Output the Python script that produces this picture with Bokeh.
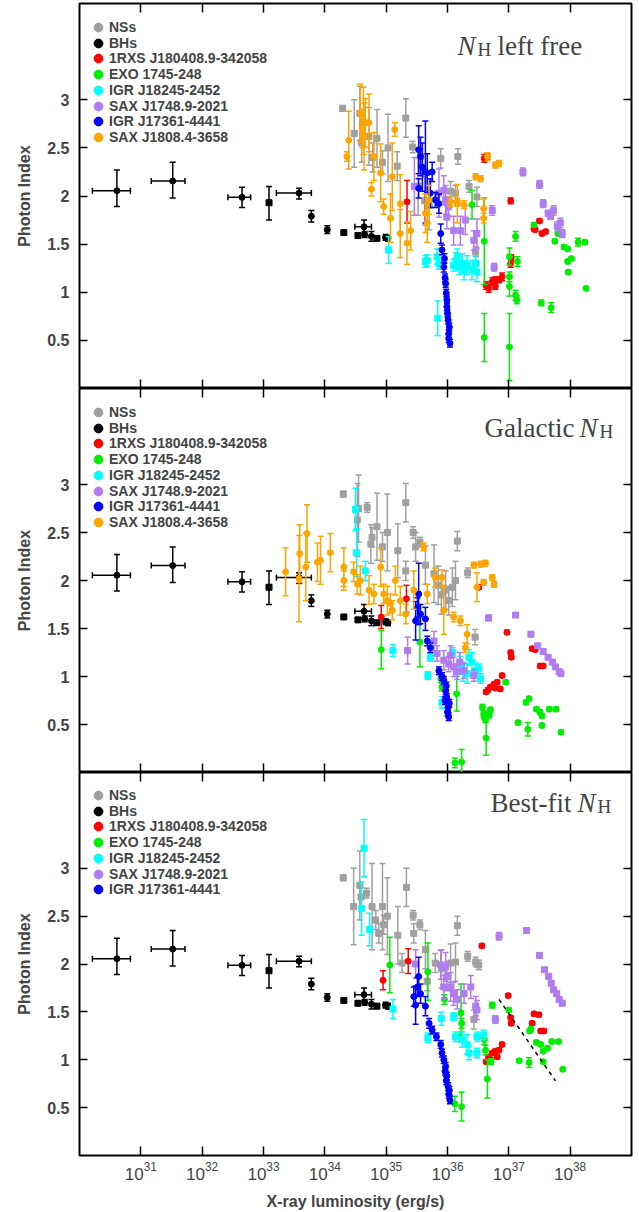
from bokeh.plotting import figure
from bokeh.models import (ColumnDataSource, FixedTicker, LinearAxis, LogAxis, Label,
                          Legend, LegendItem, Range1d)
from bokeh.layouts import column
from bokeh.embed import file_html
from bokeh.resources import INLINE

# ---------------- axes -----------------
X_TICKS = [1e31, 1e32, 1e33, 1e34, 1e35, 1e36, 1e37, 1e38]
Y_TICKS = [0.5, 1, 1.5, 2, 2.5, 3]
Y_TICK_LABELS = ["0.5", "1", "1.5", "2", "2.5", "3"]
X_LABEL = "X-ray luminosity (erg/s)"
Y_LABEL = "Photon Index"

SERIES_NAMES = ["NSs", "BHs", "1RXS J180408.9-342058", "EXO 1745-248", "IGR J18245-2452",
                "SAX J1748.9-2021", "IGR J17361-4441", "SAX J1808.4-3658"]
SERIES_COLORS = ["#a0a0a0", "#000000", "#ff0000", "#00ee00", "#00ffff",
                 "#b07cf0", "#0000ff", "#ffa500"]
SERIES_MARKERS = ["square", "circle", "circle", "circle", "square", "square", "circle", "circle"]

# ---------------- BHs (same in every panel): log10 L, photon index, errors ---------------
BH_L = [30.61, 31.52, 32.65, 33.09, 33.58, 33.78, 34.04, 34.31, 34.54, 34.64, 34.65, 34.76, 34.85, 34.99, 35.03]
BH_G = [2.055, 2.156, 1.986, 1.93, 2.03, 1.79, 1.65, 1.62, 1.59, 1.68, 1.60, 1.58, 1.56, 1.57, 1.56]
BH_G_LO = [0.165, 0.176, 0.106, 0.18, 0.06, 0.06, 0.04, 0.02, 0.02, 0.07, 0.03, 0.05, 0.02, 0.03, 0.03]
BH_G_HI = [0.215, 0.194, 0.104, 0.17, 0.05, 0.06, 0.04, 0.02, 0.02, 0.07, 0.03, 0.05, 0.02, 0.03, 0.03]
BH_L_LO = [0.40, 0.35, 0.23, 0, 0.37, 0, 0, 0, 0, 0.15, 0, 0, 0, 0, 0]
BH_L_HI = [0.22, 0.20, 0.14, 0, 0.20, 0, 0, 0, 0, 0.12, 0, 0, 0, 0, 0]
BH_MARK = ["circle", "circle", "circle", "square", "circle", "circle", "circle", "square",
           "square", "circle", "circle", "circle", "square", "circle", "circle"]

# ---------------- Panel 1: NH left free ----------------
P1_NS_L = [34.29, 34.48, 34.57, 34.60, 34.72, 34.78, 34.85, 34.94, 35.03, 35.18, 35.32, 35.43, 35.56, 35.52, 35.63, 35.70, 35.89, 36.05, 36.13, 36.17, 36.35, 36.48, 36.46]
P1_NS_G = [2.91, 2.65, 2.86, 2.55, 2.62, 2.40, 2.60, 2.35, 2.50, 2.31, 2.81, 2.51, 2.41, 2.10, 1.95, 1.90, 2.39, 2.05, 2.03, 2.41, 2.10, 1.99, 1.42]
P1_NS_E = [0.03, 0.35, 0.28, 0.2, 0.3, 0.15, 0.3, 0.12, 0.35, 0.15, 0.2, 0.06, 0.08, 0.3, 0.25, 0.25, 0.1, 0.1, 0.08, 0.08, 0.06, 0.1, 0.05]

P1_RX_L = [35.34, 36.60, 36.65, 37.03, 37.03, 37.04, 36.63, 36.67, 36.73, 36.78, 36.84, 36.89, 36.78, 37.41, 37.50, 37.43, 37.54, 37.60]
P1_RX_G = [1.94, 2.39, 2.41, 1.95, 1.30, 1.36, 1.07, 1.04, 1.11, 1.06, 1.13, 1.16, 1.13, 1.66, 1.74, 1.65, 1.61, 1.63]
P1_RX_E = [0.22, 0.04, 0.03, 0.03, 0.04, 0.03, 0.04, 0.04, 0.04, 0.03, 0.03, 0.04, 0.03, 0.02, 0.02, 0.02, 0.02, 0.02]

P1_EXO_L = [36.40, 36.60, 36.60, 37.01, 37.01, 37.01, 37.01, 37.11, 37.14, 37.11, 37.13, 37.53, 37.69, 37.41, 37.75, 37.80, 37.90, 37.96, 37.96, 38.02, 37.97, 38.13, 38.24, 38.26]
P1_EXO_G = [1.91, 1.53, 0.53, 0.43, 1.37, 1.16, 1.06, 1.58, 1.32, 0.97, 0.92, 0.89, 0.84, 1.70, 1.53, 1.61, 1.47, 1.45, 1.32, 1.35, 1.21, 1.52, 1.52, 1.04]
P1_EXO_E = [0.15, 0.45, 0.25, 0.35, 0.09, 0.05, 0.1, 0.05, 0.05, 0.05, 0.04, 0.03, 0.05, 0.02, 0.02, 0.02, 0.02, 0.02, 0.02, 0.02, 0.02, 0.04, 0.02, 0.02]

P1_IGR1_L = [35.04, 35.64, 35.67, 35.83, 35.86, 35.84, 36.16, 36.19, 36.24, 36.27, 36.32, 36.40, 36.46, 36.48, 36.10, 36.14]
P1_IGR1_G = [1.44, 1.32, 1.33, 1.37, 1.30, 0.73, 1.37, 1.26, 1.30, 1.23, 1.28, 1.23, 1.30, 1.21, 1.28, 1.33]
P1_IGR1_E = [0.14, 0.06, 0.06, 0.08, 0.06, 0.18, 0.08, 0.08, 0.1, 0.1, 0.1, 0.1, 0.08, 0.1, 0.06, 0.08]

P1_SAX1_L = [35.46, 35.86, 35.94, 35.97, 36.02, 35.99, 36.10, 36.21, 36.29, 36.43, 36.48, 36.73, 36.76, 37.23, 37.50, 37.56, 37.64, 37.68, 37.73, 37.79, 37.84, 37.87]
P1_SAX1_G = [2.10, 2.03, 2.06, 1.96, 1.89, 1.78, 1.64, 1.64, 1.75, 1.54, 1.61, 1.85, 1.26, 2.25, 2.12, 1.92, 1.82, 1.79, 1.85, 1.68, 1.72, 1.61]
P1_SAX1_E = [0.3, 0.25, 0.15, 0.15, 0.1, 0.12, 0.15, 0.15, 0.15, 0.1, 0.15, 0.05, 0.04, 0.04, 0.04, 0.04, 0.03, 0.03, 0.05, 0.05, 0.05, 0.04]

P1_IGR2_L = [35.64, 35.53, 35.53, 35.56, 35.59, 35.67, 35.75, 35.72, 35.80, 35.86, 35.89, 35.91, 35.94, 35.97, 35.98, 35.99, 36.01, 36.02, 36.04, 35.96, 35.99, 36.0, 36.03, 36.02, 35.95]
P1_IGR2_G = [2.25, 2.08, 2.48, 2.41, 2.30, 2.24, 2.25, 2.03, 1.96, 1.92, 1.61, 1.44, 1.26, 1.09, 0.99, 0.85, 0.71, 0.57, 0.47, 1.15, 0.92, 0.78, 0.64, 0.52, 1.35]
P1_IGR2_E = [0.53, 0.1, 0.25, 0.2, 0.25, 0.2, 0.1, 0.15, 0.08, 0.1, 0.1, 0.05, 0.05, 0.04, 0.04, 0.04, 0.04, 0.04, 0.04, 0.04, 0.04, 0.04, 0.04, 0.04, 0.05]

P1_SAX2_L = [34.39, 34.36, 34.58, 34.63, 34.61, 34.66, 34.72, 34.64, 34.76, 34.80, 34.91, 34.96, 35.14, 35.10, 35.07, 35.23, 35.23, 35.34, 35.40, 35.64, 35.70, 35.67, 36.05, 36.16, 36.27, 36.46, 36.54, 36.59, 36.65, 36.78, 36.84, 36.59, 36.16]
P1_SAX2_G = [2.58, 2.41, 2.86, 2.78, 2.70, 2.76, 2.76, 2.62, 2.07, 2.41, 2.24, 1.89, 2.69, 2.20, 1.77, 1.92, 1.61, 1.51, 1.64, 1.82, 1.96, 1.72, 1.94, 1.94, 1.91, 2.20, 2.18, 1.77, 2.41, 2.32, 2.34, 1.87, 1.92]
P1_SAX2_E = [0.3, 0.05, 0.3, 0.35, 0.2, 0.25, 0.3, 0.35, 0.07, 0.25, 0.3, 0.08, 0.07, 0.35, 0.25, 0.3, 0.25, 0.22, 0.2, 0.2, 0.15, 0.2, 0.05, 0.04, 0.04, 0.03, 0.03, 0.05, 0.04, 0.03, 0.03, 0.1, 0.2]

# ---------------- Panel 2: Galactic NH ----------------
P2_NS_L = [34.30, 34.55, 34.53, 34.69, 34.77, 34.75, 34.85, 34.94, 35.02, 35.19, 35.32, 35.32, 35.44, 35.48, 35.55, 35.64, 35.78, 35.97, 36.02, 36.08, 36.13, 36.16, 36.33, 36.45, 35.85, 35.90]
P2_NS_G = [2.90, 2.75, 2.63, 2.76, 2.45, 2.38, 2.56, 2.35, 2.50, 2.31, 2.81, 2.10, 2.50, 2.35, 2.40, 2.16, 2.07, 1.90, 1.79, 1.93, 2.00, 2.41, 2.08, 1.41, 1.95, 1.85]
P2_NS_E = [0.03, 0.35, 0.38, 0.05, 0.1, 0.2, 0.35, 0.15, 0.4, 0.28, 0.2, 0.1, 0.06, 0.15, 0.05, 0.2, 0.3, 0.2, 0.15, 0.2, 0.2, 0.1, 0.05, 0.08, 0.2, 0.2]

P2_RX_L = [34.92, 35.33, 36.51, 36.97, 37.03, 37.04, 37.38, 37.43, 37.51, 37.56, 36.63, 36.70, 36.76, 36.81, 36.86, 36.89, 36.66, 36.78]
P2_RX_G = [1.62, 1.81, 1.93, 1.46, 1.25, 1.20, 1.29, 1.28, 1.11, 1.11, 0.84, 0.89, 0.92, 0.94, 0.87, 1.01, 0.86, 0.88]
P2_RX_E = [0.12, 0.14, 0.02, 0.02, 0.02, 0.02, 0.02, 0.02, 0.02, 0.02, 0.02, 0.02, 0.02, 0.02, 0.02, 0.02, 0.02, 0.02]

P2_EXO_L = [34.92, 35.55, 35.89, 35.91, 36.15, 36.12, 36.23, 36.57, 36.59, 36.62, 36.68, 36.70, 36.63, 36.95, 37.15, 37.31, 37.28, 37.33, 37.45, 37.51, 37.54, 37.54, 37.66, 37.77, 37.85, 36.60]
P2_EXO_G = [1.28, 1.36, 0.98, 0.89, 0.82, 0.10, 0.11, 0.68, 0.61, 0.55, 0.60, 0.65, 0.36, 0.94, 0.52, 0.45, 0.73, 0.77, 0.66, 0.63, 0.59, 0.49, 0.66, 0.66, 0.42, 0.58]
P2_EXO_E = [0.2, 0.26, 0.04, 0.04, 0.18, 0.05, 0.13, 0.03, 0.03, 0.03, 0.03, 0.03, 0.18, 0.02, 0.02, 0.07, 0.02, 0.02, 0.02, 0.02, 0.02, 0.02, 0.02, 0.02, 0.02, 0.03]

P2_IGR1_L = [34.50, 34.52, 34.66, 35.11, 35.68, 35.72, 35.91, 36.08, 36.21, 36.32, 36.35, 36.46, 36.51, 36.54, 36.40, 36.25]
P2_IGR1_G = [2.74, 2.29, 2.10, 1.27, 1.01, 1.20, 0.73, 1.25, 1.13, 1.03, 1.20, 1.06, 1.08, 0.98, 1.15, 1.05]
P2_IGR1_E = [0.22, 0.25, 0.1, 0.06, 0.04, 0.04, 0.06, 0.05, 0.08, 0.1, 0.08, 0.08, 0.05, 0.05, 0.1, 0.1]

P2_SAX1_L = [35.35, 35.78, 35.83, 35.94, 36.02, 36.10, 36.16, 36.27, 36.43, 36.67, 37.11, 37.36, 37.47, 37.56, 37.64, 37.71, 37.76, 37.82, 37.85, 36.20, 36.05]
P2_SAX1_G = [1.27, 1.37, 1.24, 1.17, 1.13, 1.10, 1.05, 1.06, 1.01, 1.61, 1.64, 1.44, 1.32, 1.26, 1.20, 1.15, 1.10, 1.05, 1.03, 1.15, 1.22]
P2_SAX1_E = [0.14, 0.1, 0.08, 0.1, 0.08, 0.1, 0.08, 0.08, 0.06, 0.03, 0.02, 0.02, 0.02, 0.02, 0.02, 0.02, 0.02, 0.02, 0.02, 0.1, 0.1]

P2_IGR2_L = [35.53, 35.51, 35.48, 35.56, 35.64, 35.67, 35.72, 35.86, 35.94, 35.97, 35.99, 36.01, 36.02, 35.96, 36.0, 35.91, 35.98, 36.03]
P2_IGR2_G = [1.86, 1.72, 1.58, 1.65, 1.60, 1.37, 1.30, 1.06, 0.96, 0.85, 0.78, 0.68, 0.58, 0.75, 0.63, 1.00, 0.90, 0.72]
P2_IGR2_E = [0.32, 0.1, 0.2, 0.1, 0.12, 0.05, 0.05, 0.04, 0.04, 0.04, 0.04, 0.04, 0.04, 0.04, 0.04, 0.04, 0.04, 0.04]

P2_SAX2_L = [33.36, 33.58, 33.59, 33.69, 33.71, 33.88, 33.93, 34.09, 34.31, 34.31, 34.47, 34.53, 34.58, 34.72, 34.80, 34.91, 34.96, 35.02, 35.07, 35.10, 35.23, 35.32, 35.61, 35.67, 35.80, 35.91, 35.94, 36.10, 36.21, 36.32, 36.43, 36.54, 36.62, 36.48, 36.59, 36.73, 36.76, 36.29, 35.15, 35.45]
P2_SAX2_G = [2.09, 2.02, 2.28, 2.14, 2.49, 2.19, 2.21, 2.29, 2.14, 2.00, 2.09, 1.96, 2.00, 1.90, 1.86, 2.14, 1.86, 1.79, 1.76, 1.69, 1.79, 1.65, 2.35, 1.86, 2.03, 2.03, 1.69, 1.62, 1.58, 1.44, 2.16, 2.17, 2.18, 1.93, 1.98, 2.03, 1.96, 1.30, 2.00, 1.90]
P2_SAX2_E = [0.25, 0.45, 0.3, 0.35, 0.3, 0.2, 0.25, 0.2, 0.2, 0.1, 0.1, 0.1, 0.15, 0.15, 0.1, 0.2, 0.1, 0.15, 0.1, 0.1, 0.15, 0.1, 0.04, 0.1, 0.1, 0.08, 0.25, 0.05, 0.05, 0.1, 0.03, 0.03, 0.03, 0.15, 0.03, 0.03, 0.03, 0.05, 0.15, 0.2]

# ---------------- Panel 3: Best-fit NH ----------------
P3_NS_L = [34.30, 34.47, 34.57, 34.59, 34.68, 34.77, 34.83, 34.88, 34.94, 34.96, 35.02, 35.19, 35.26, 35.33, 35.44, 35.45, 35.55, 35.64, 35.67, 35.80, 35.90, 36.05, 36.13, 36.16, 36.33, 36.46, 36.51, 36.43]
P3_NS_G = [2.90, 2.60, 2.82, 2.70, 2.74, 2.60, 2.46, 2.32, 2.60, 2.41, 2.50, 2.30, 2.01, 2.80, 2.51, 2.32, 2.41, 2.15, 1.82, 2.01, 1.95, 2.01, 2.02, 2.40, 2.08, 2.02, 1.99, 1.42]
P3_NS_E = [0.03, 0.4, 0.36, 0.1, 0.05, 0.45, 0.1, 0.1, 0.45, 0.1, 0.4, 0.3, 0.1, 0.2, 0.05, 0.1, 0.05, 0.2, 0.1, 0.1, 0.2, 0.2, 0.2, 0.1, 0.05, 0.05, 0.05, 0.1]

P3_RX_L = [34.95, 35.36, 36.56, 36.99, 37.03, 37.04, 37.41, 37.49, 37.38, 37.52, 37.57, 36.63, 36.67, 36.73, 36.78, 36.84, 36.89, 36.81, 36.70]
P3_RX_G = [1.83, 2.03, 2.19, 1.67, 1.44, 1.38, 1.48, 1.47, 1.38, 1.30, 1.30, 0.98, 1.03, 1.07, 1.09, 1.10, 1.16, 1.03, 1.00]
P3_RX_E = [0.1, 0.13, 0.02, 0.02, 0.02, 0.02, 0.02, 0.02, 0.02, 0.02, 0.02, 0.02, 0.02, 0.02, 0.02, 0.02, 0.02, 0.02, 0.02]

P3_EXO_L = [35.06, 35.68, 35.95, 36.22, 36.23, 36.21, 36.12, 36.23, 36.60, 36.62, 36.65, 36.71, 36.73, 37.00, 37.17, 37.33, 37.34, 37.36, 37.45, 37.52, 37.56, 37.63, 37.56, 37.70, 37.81, 37.88]
P3_EXO_G = [1.99, 1.92, 1.63, 1.49, 1.38, 1.24, 0.54, 0.51, 1.21, 1.10, 0.80, 0.98, 1.57, 1.52, 0.99, 0.97, 1.30, 1.32, 1.18, 1.16, 1.09, 1.12, 0.98, 1.19, 1.19, 0.90]
P3_EXO_E = [0.29, 0.3, 0.05, 0.3, 0.05, 0.05, 0.08, 0.15, 0.05, 0.05, 0.2, 0.03, 0.03, 0.02, 0.02, 0.05, 0.02, 0.02, 0.02, 0.02, 0.02, 0.02, 0.02, 0.02, 0.02, 0.02]

P3_IGR1_L = [34.64, 34.60, 34.73, 35.11, 35.68, 35.90, 36.10, 36.13, 36.24, 36.32, 36.35, 36.48, 36.48, 36.59]
P3_IGR1_G = [3.21, 2.58, 2.36, 1.53, 1.23, 1.43, 1.45, 1.24, 1.21, 1.16, 1.07, 1.24, 1.07, 1.26]
P3_IGR1_E = [0.3, 0.28, 0.17, 0.1, 0.05, 0.07, 0.04, 0.05, 0.08, 0.1, 0.07, 0.05, 0.05, 0.05]

P3_SAX1_L = [35.48, 35.89, 35.97, 35.99, 35.94, 36.05, 36.10, 36.16, 36.27, 36.38, 36.46, 36.48, 36.84, 36.78, 37.29, 37.50, 37.58, 37.65, 37.69, 37.73, 37.78, 37.82, 37.87]
P3_SAX1_G = [2.00, 1.99, 1.97, 1.87, 1.76, 1.76, 1.69, 1.63, 1.69, 1.76, 1.56, 1.52, 2.29, 1.42, 2.35, 2.09, 1.94, 1.87, 1.80, 1.73, 1.69, 1.63, 1.59]
P3_SAX1_E = [0.15, 0.15, 0.15, 0.15, 0.12, 0.15, 0.12, 0.1, 0.1, 0.12, 0.1, 0.1, 0.04, 0.04, 0.02, 0.02, 0.02, 0.02, 0.02, 0.02, 0.02, 0.02, 0.02]

P3_IGR2_L = [35.53, 35.51, 35.48, 35.45, 35.56, 35.64, 35.70, 35.75, 35.82, 35.89, 35.91, 35.97, 35.99, 36.01, 36.02, 36.04, 35.96, 35.98, 36.03, 35.94]
P3_IGR2_G = [1.87, 1.76, 1.57, 1.66, 1.69, 1.56, 1.38, 1.31, 1.24, 1.16, 1.07, 0.93, 0.83, 0.72, 0.64, 0.58, 0.88, 0.78, 0.68, 1.00]
P3_IGR2_E = [0.2, 0.1, 0.2, 0.1, 0.1, 0.1, 0.05, 0.04, 0.04, 0.04, 0.04, 0.04, 0.04, 0.04, 0.04, 0.04, 0.04, 0.04, 0.04, 0.04]

# dashed trend line in the bottom panel
DASH_L = [36.84, 37.76]
DASH_G = [1.63, 0.78]

PANEL_TITLES = [("", "N", "H", "left free"), ("Galactic", "N", "H", ""), ("Best-fit", "N", "H", "")]

FRAME_HEIGHTS = [385, 384, 384]
FONT_SANS = "Liberation Sans"
FONT_SERIF = "Liberation Serif"
LEGEND_TOP = 24      # px from the frame top to the first legend entry
LEGEND_STEP = 15.7   # px between legend entries
LEGEND_FONT = "14px"
LEGEND_GLYPH = 22    # legend glyph box (marker drawn at 0.4 of it)


def draw_series(p, logl, g, e, color, marker):
    xs = [10 ** v for v in logl]
    src = ColumnDataSource(dict(x=xs, y=g, lo=[a - b for a, b in zip(g, e)],
                                hi=[a + b for a, b in zip(g, e)]))
    p.segment(x0="x", y0="lo", x1="x", y1="hi", source=src, line_color=color, line_width=1.5)
    p.scatter("x", "lo", source=src, marker="dash", size=6, line_color=color, line_width=1.5)
    p.scatter("x", "hi", source=src, marker="dash", size=6, line_color=color, line_width=1.5)
    p.scatter("x", "y", source=src, marker=marker, size=6, fill_color=color, line_color=color)
    proxy = p.scatter("x", "y", source=src, marker="circle", size=9, fill_color=color,
                      line_color=color, visible=False)
    return proxy


def draw_bh(p):
    xs = [10 ** v for v in BH_L]
    src = ColumnDataSource(dict(
        x=xs, y=BH_G,
        lo=[a - b for a, b in zip(BH_G, BH_G_LO)], hi=[a + b for a, b in zip(BH_G, BH_G_HI)],
        m=BH_MARK))
    p.segment(x0="x", y0="lo", x1="x", y1="hi", source=src, line_color="black", line_width=1.5)
    p.scatter("x", "lo", source=src, marker="dash", size=6, line_color="black", line_width=1.5)
    p.scatter("x", "hi", source=src, marker="dash", size=6, line_color="black", line_width=1.5)
    sel = [i for i in range(len(BH_L)) if BH_L_LO[i] > 0]
    xe = ColumnDataSource(dict(
        y=[BH_G[i] for i in sel],
        xl=[10 ** (BH_L[i] - BH_L_LO[i]) for i in sel],
        xh=[10 ** (BH_L[i] + BH_L_HI[i]) for i in sel]))
    p.segment(x0="xl", y0="y", x1="xh", y1="y", source=xe, line_color="black", line_width=1.5)
    p.scatter("xl", "y", source=xe, marker="dash", angle=1.5708, size=6, line_color="black", line_width=1.5)
    p.scatter("xh", "y", source=xe, marker="dash", angle=1.5708, size=6, line_color="black", line_width=1.5)
    p.scatter("x", "y", source=src, marker="m", size=6, fill_color="black", line_color="black")
    proxy = p.scatter("x", "y", source=src, marker="circle", size=9, fill_color="black",
                      line_color="black", visible=False)
    return proxy


def make_panel(idx, series, top, bottom, show_x):
    fh = FRAME_HEIGHTS[idx]
    p = figure(width=639, height=fh + top + bottom, x_axis_type="log",
               x_range=Range1d(1e30, 1e39), y_range=Range1d(0, 4),
               output_backend="svg", toolbar_location=None,
               x_axis_location=None, y_axis_location=None,
               min_border_left=79, min_border_right=8,
               min_border_top=top, min_border_bottom=bottom)
    p.xgrid.visible = False
    p.ygrid.visible = False
    p.outline_line_color = "black"
    p.outline_line_width = 2
    p.outline_line_alpha = 1.0

    def style(ax, tick_in):
        ax.major_tick_in = tick_in
        ax.major_tick_out = 0
        ax.minor_tick_line_color = None
        ax.major_tick_line_width = 1.5
        ax.major_tick_line_color = "black"
        ax.axis_line_color = None

    def hide_labels(ax):
        ax.major_label_text_font_size = "1px"
        ax.major_label_text_alpha = 0
        ax.major_label_standoff = 0

    yl = LinearAxis(ticker=FixedTicker(ticks=Y_TICKS),
                    major_label_overrides=dict(zip(Y_TICKS, Y_TICK_LABELS)),
                    axis_label=Y_LABEL)
    style(yl, 8)
    yl.major_label_text_font = FONT_SANS
    yl.major_label_text_font_style = "bold"
    yl.major_label_text_font_size = "16px"
    yl.major_label_standoff = 10
    yl.axis_label_text_font = FONT_SANS
    yl.axis_label_text_font_style = "bold"
    yl.axis_label_text_font_size = "16px"
    yl.axis_label_standoff = 11
    p.add_layout(yl, "left")
    yr = LinearAxis(ticker=FixedTicker(ticks=Y_TICKS))
    style(yr, 8)
    hide_labels(yr)
    p.add_layout(yr, "right")

    xt = LogAxis(ticker=FixedTicker(ticks=X_TICKS))
    style(xt, 9)
    hide_labels(xt)
    p.add_layout(xt, "above")
    xb = LogAxis(ticker=FixedTicker(ticks=X_TICKS))
    style(xb, 9)
    if show_x:
        xb.major_label_text_font = FONT_SANS
        xb.major_label_text_font_size = "17px"
        xb.major_label_standoff = 6
        xb.axis_label = X_LABEL
        xb.axis_label_text_font = FONT_SANS
        xb.axis_label_text_font_style = "bold"
        xb.axis_label_text_font_size = "16px"
        xb.axis_label_standoff = 10
    else:
        hide_labels(xb)
    p.add_layout(xb, "below")

    for k, (name, data) in enumerate(series):
        if name == "BHs":
            r = draw_bh(p)
        else:
            logl, g, e = data
            r = draw_series(p, logl, g, e, SERIES_COLORS[k], SERIES_MARKERS[k])
        # one single-entry legend per series, stacked with a tight key spacing
        vy = fh - (LEGEND_TOP + LEGEND_STEP * k) - LEGEND_GLYPH / 2
        leg = Legend(items=[LegendItem(label=name, renderers=[r])], location=(8, vy),
                     margin=0, padding=0, spacing=0,
                     glyph_width=LEGEND_GLYPH, glyph_height=LEGEND_GLYPH,
                     label_height=14, label_standoff=0,
                     border_line_color=None, background_fill_alpha=0,
                     label_text_font=FONT_SANS, label_text_font_style="bold",
                     label_text_font_size=LEGEND_FONT)
        p.add_layout(leg)

    if idx == 2:
        p.line([10 ** v for v in DASH_L], DASH_G, line_color="black", line_width=1.5,
               line_dash="4 4")

    pre, n, h, post = PANEL_TITLES[idx]
    x_pre, x_n, x_h, dy = [(0, 378, 398, 42), (405, 500, 520, 39), (411, 498, 518, 31)][idx]
    base = fh - dy
    if pre:
        p.add_layout(Label(x=x_pre, y=base, x_units="screen", y_units="screen", text=pre,
                           text_font=FONT_SERIF, text_font_size="27px", text_baseline="alphabetic"))
    p.add_layout(Label(x=x_n, y=base, x_units="screen", y_units="screen", text=n,
                       text_font=FONT_SERIF, text_font_style="italic", text_font_size="27px",
                       text_baseline="alphabetic"))
    p.add_layout(Label(x=x_h, y=base - 4, x_units="screen", y_units="screen", text=h,
                       text_font=FONT_SERIF, text_font_size="19px", text_baseline="alphabetic"))
    if post:
        p.add_layout(Label(x=418, y=base, x_units="screen", y_units="screen", text=post,
                           text_font=FONT_SERIF, text_font_size="27px", text_baseline="alphabetic"))
    return p


s1 = [("NSs", (P1_NS_L, P1_NS_G, P1_NS_E)), ("BHs", None),
      (SERIES_NAMES[2], (P1_RX_L, P1_RX_G, P1_RX_E)), (SERIES_NAMES[3], (P1_EXO_L, P1_EXO_G, P1_EXO_E)),
      (SERIES_NAMES[4], (P1_IGR1_L, P1_IGR1_G, P1_IGR1_E)), (SERIES_NAMES[5], (P1_SAX1_L, P1_SAX1_G, P1_SAX1_E)),
      (SERIES_NAMES[6], (P1_IGR2_L, P1_IGR2_G, P1_IGR2_E)), (SERIES_NAMES[7], (P1_SAX2_L, P1_SAX2_G, P1_SAX2_E))]
s2 = [("NSs", (P2_NS_L, P2_NS_G, P2_NS_E)), ("BHs", None),
      (SERIES_NAMES[2], (P2_RX_L, P2_RX_G, P2_RX_E)), (SERIES_NAMES[3], (P2_EXO_L, P2_EXO_G, P2_EXO_E)),
      (SERIES_NAMES[4], (P2_IGR1_L, P2_IGR1_G, P2_IGR1_E)), (SERIES_NAMES[5], (P2_SAX1_L, P2_SAX1_G, P2_SAX1_E)),
      (SERIES_NAMES[6], (P2_IGR2_L, P2_IGR2_G, P2_IGR2_E)), (SERIES_NAMES[7], (P2_SAX2_L, P2_SAX2_G, P2_SAX2_E))]
s3 = [("NSs", (P3_NS_L, P3_NS_G, P3_NS_E)), ("BHs", None),
      (SERIES_NAMES[2], (P3_RX_L, P3_RX_G, P3_RX_E)), (SERIES_NAMES[3], (P3_EXO_L, P3_EXO_G, P3_EXO_E)),
      (SERIES_NAMES[4], (P3_IGR1_L, P3_IGR1_G, P3_IGR1_E)), (SERIES_NAMES[5], (P3_SAX1_L, P3_SAX1_G, P3_SAX1_E)),
      (SERIES_NAMES[6], (P3_IGR2_L, P3_IGR2_G, P3_IGR2_E))]

p1 = make_panel(0, s1, 3, 0, False)
p2 = make_panel(1, s2, 0, 0, False)
p3 = make_panel(2, s3, 0, 56, True)

layout = column(p1, p2, p3, spacing=0)
open("out.html", "w").write(file_html(layout, INLINE))
